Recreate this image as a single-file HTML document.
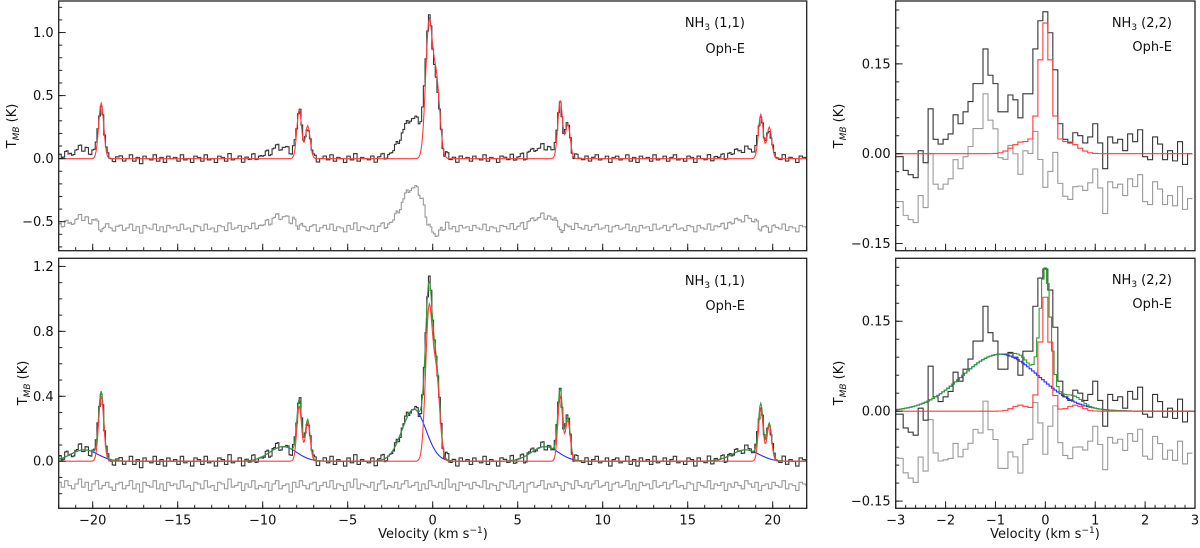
<!DOCTYPE html>
<html><head><meta charset="utf-8">
<style>
html,body{margin:0;padding:0;background:#fff;}
svg{display:block;font-family:"DejaVu Sans","Liberation Sans",sans-serif;}
</style></head>
<body>
<svg id="chart" width="1200" height="548" viewBox="0 0 1200 548" xmlns="http://www.w3.org/2000/svg"></svg>
<script>
// ---------- DATA: NH3 (1,1) ----------
const hfCenters = [-19.5, -7.85, -7.35, -0.22, 0.22, 7.5, 7.95, 19.3, 19.8];
const hfSigmas = [0.15, 0.14, 0.14, 0.2, 0.2, 0.14, 0.14, 0.14, 0.14];
const hfAmpsTop = [0.44, 0.39, 0.26, 1.05, 0.6, 0.46, 0.27, 0.35, 0.25];
const hfAmpsBottom = [0.40, 0.34, 0.24, 0.92, 0.5, 0.40, 0.25, 0.32, 0.22];
const broadCenters = [-20.5, -8.8, -1.1, 6.6, 18.4];
const broadAmps = [0.07, 0.09, 0.32, 0.09, 0.07];
const broadSigmas = [0.8, 0.8, 0.7, 0.8, 0.8];
// residual noise, 0.2 km/s steps from -22 to 22
const noise11 = [
0.02,-0.01,0.03,0.00,-0.02,0.01,0.04,-0.01,0.02,-0.03,0.01,0.03,-0.02,0.00,0.02,-0.01,-0.03,0.01,0.02,-0.02,
0.00,0.03,-0.02,0.01,-0.04,0.02,0.00,-0.01,0.03,-0.02,0.01,-0.03,0.02,0.00,0.01,-0.02,0.03,-0.01,0.00,-0.03,
0.02,0.01,-0.02,0.03,-0.01,0.00,-0.03,0.02,0.01,-0.02,0.04,-0.01,0.00,0.02,-0.03,0.01,-0.01,0.03,-0.02,0.00,
-0.01,0.02,-0.03,0.01,0.03,-0.02,0.00,0.01,-0.04,0.02,-0.01,0.03,0.00,-0.02,0.01,0.02,-0.03,0.00,0.02,-0.01,
0.03,-0.02,0.01,0.00,-0.03,0.02,-0.01,0.04,-0.02,0.01,0.00,-0.01,0.02,-0.03,0.01,0.03,-0.02,0.00,-0.01,0.02,
-0.02,0.01,0.03,-0.01,0.00,0.02,-0.03,0.01,-0.02,0.03,0.00,-0.01,0.02,-0.02,0.04,-0.01,0.01,-0.03,0.02,0.00,
0.01,-0.02,0.02,0.00,-0.01,0.03,-0.02,0.01,0.00,-0.03,0.02,0.01,-0.01,0.03,-0.02,0.00,0.02,-0.04,0.01,0.02,
-0.01,0.00,0.03,-0.02,0.01,-0.01,0.02,0.00,-0.03,0.02,0.01,-0.02,0.03,0.00,-0.01,0.02,-0.02,0.01,0.03,-0.01,
0.00,0.02,-0.03,0.01,0.02,-0.01,0.00,0.03,-0.02,0.01,-0.03,0.02,0.00,0.01,-0.02,0.03,-0.01,0.00,0.02,-0.02,
0.01,0.03,-0.01,0.00,-0.02,0.02,0.01,-0.03,0.02,0.00,-0.01,0.03,-0.02,0.01,0.00,0.02,-0.03,0.01,-0.01,0.02,
0.00,-0.02,0.03,0.01,-0.01,0.02,-0.03,0.00,0.01,-0.02,0.02,0.00,-0.01,0.03,-0.02,0.01,0.00,-0.03,0.02,0.01,
0.00];
// ---------- DATA: NH3 (2,2) ----------
const obs22 = [-0.005,-0.005,-0.028,-0.035,-0.04,0.005,-0.015,0.075,0.024,0.016,0.024,0.033,0.065,0.05,0.07,0.087,0.117,0.117,0.175,0.131,0.117,0.07,0.07,0.098,0.09,0.06,0.1,0.1,0.175,0.222,0.237,0.202,0.14,0.05,0.024,0.018,0.035,0.03,0.018,0.028,0.05,0.018,-0.025,0.028,0.018,0.024,0.005,0.033,0.02,0.04,-0.005,-0.01,0.028,0.016,-0.01,0.005,-0.012,0.02,-0.018,0.0];
const c22Top = [-0.45, 0.0, 0.45];
const a22Top = [0.02, 0.215, 0.02];
const s22Top = [0.2, 0.12, 0.2];
const c22Bot = [-0.5, 0.0, 0.6];
const a22Bot = [0.01, 0.19, 0.01];
const s22Bot = [0.15, 0.1, 0.15];
const broad22Center = [-0.9];
const broad22Amp = [0.095];
const broad22Sigma = [0.78];
const xTicksLeft = [-20,-15,-10,-5,0,5,10,15,20];
const yTicksLT = [-0.5,0.0,0.5,1.0];
const yTicksLB = [0.0,0.4,0.8,1.2];
const xTicksRight = [-3,-2,-1,0,1,2,3];
const yTicksR = [-0.15,0.00,0.15];

// ---------- helpers ----------
const svg = document.getElementById('chart');
const NS = 'http://www.w3.org/2000/svg';
function mk(tag, attrs, parent){const e=document.createElementNS(NS,tag);for(const k in attrs)e.setAttribute(k,attrs[k]);(parent||svg).appendChild(e);return e;}
function gsum(v,cs,as,ss){let s=0;for(let i=0;i<cs.length;i++){const d=(v-cs[i])/ss[i];s+=as[i]*Math.exp(-0.5*d*d);}return s;}
function fmt(v,dec){const s=Math.abs(v).toFixed(dec);return (v<0?'\u2212':'')+s;}

function makePanel(name,p){
  p.sx=v=>p.x0+(v-p.xmin)/(p.xmax-p.xmin)*(p.x1-p.x0);
  p.sy=v=>p.y1-(v-p.ymin)/(p.ymax-p.ymin)*(p.y1-p.y0);
  const cp=mk('clipPath',{id:'clip-'+name});
  mk('rect',{x:p.x0,y:p.y0,width:p.x1-p.x0,height:p.y1-p.y0},cp);
  p.g=mk('g',{'clip-path':'url(#clip-'+name+')'});
  
  
  return p;
}
function stepPath(p,vals,v0,dv,color,w,label){
  let d='';
  for(let i=0;i<vals.length;i++){
    const xa=p.sx(v0+i*dv-dv/2), xb=p.sx(v0+i*dv+dv/2), y=p.sy(vals[i]);
    d+=(i===0?'M':'L')+xa.toFixed(2)+','+y.toFixed(2)+'L'+xb.toFixed(2)+','+y.toFixed(2);
  }
  const e=mk('path',{d:d,fill:'none',stroke:color,'stroke-width':w,'stroke-linejoin':'miter'},p.g);
  
  
  return e;
}
function linePath(p,fn,v0,v1,dv,color,w,label){
  let d='';
  for(let v=v0,i=0;v<=v1+1e-9;v+=dv,i++){d+=(i===0?'M':'L')+p.sx(v).toFixed(2)+','+p.sy(fn(v)).toFixed(2);}
  const e=mk('path',{d:d,fill:'none',stroke:color,'stroke-width':w},p.g);
  
  
  return e;
}
function axes(name,p,xt,xminor,yt,yminor,ydec,xlabels){
  const f=mk('rect',{x:p.x0,y:p.y0,width:p.x1-p.x0,height:p.y1-p.y0,fill:'none',stroke:'#222','stroke-width':1.3});
  
  
  const tg=mk('g',{stroke:'#222','stroke-width':1});
  
  
  for(let v=p.xmin;v<=p.xmax+1e-9;v+=xminor){const x=p.sx(v);mk('line',{x1:x,x2:x,y1:p.y1,y2:p.y1-3.5},tg);}
  for(let v=Math.ceil(p.ymin/yminor)*yminor;v<=p.ymax+1e-9;v+=yminor){const y=p.sy(v);mk('line',{x1:p.x0,x2:p.x0+3.5,y1:y,y2:y},tg);}
  xt.forEach(v=>{const x=p.sx(v);mk('line',{x1:x,x2:x,y1:p.y1,y2:p.y1-7},tg);
    if(xlabels){const t=mk('text',{x:x,y:p.y1+16,'text-anchor':'middle','font-size':13,fill:'#111'});t.textContent=fmt(v,0);
      
      }});
  yt.forEach(v=>{const y=p.sy(v);mk('line',{x1:p.x0,x2:p.x0+7,y1:y,y2:y},tg);
    const t=mk('text',{x:p.x0-5,y:y+4.5,'text-anchor':'end','font-size':13,fill:'#111'});t.textContent=fmt(v,ydec);
    
    });
}
function ylabel(name,x,y){
  const t=mk('text',{x:0,y:0,transform:'translate('+x+','+y+') rotate(-90)','text-anchor':'middle','font-size':13,fill:'#111'});
  t.innerHTML='T<tspan font-size="9" font-style="italic" dy="3">MB</tspan><tspan dy="-3"> (K)</tspan>';
  
  
}
function xlabel(name,x,y){
  const t=mk('text',{x:x,y:y,'text-anchor':'middle','font-size':13,fill:'#111'});
  t.innerHTML='Velocity (km s<tspan font-size="9" dy="-5">\u22121</tspan><tspan dy="5">)</tspan>';
  
  
}
function annot(name,xr,y1,line,y2){
  const t=mk('text',{x:xr,y:y1,'text-anchor':'end','font-size':13,fill:'#111'});
  t.innerHTML='NH<tspan font-size="9" dy="3">3</tspan><tspan dy="-3"> '+line+'</tspan>';
  
  
  const s=mk('text',{x:xr,y:y2,'text-anchor':'end','font-size':13,fill:'#111'});
  s.textContent='Oph-E';
  
  
}

const RED='#ff3b3b', BLK='#333', GRY='#9a9a9a', GRN='#2e9e2e', BLU='#2a2aff';

// ---------- Left panels ----------
const LT=makePanel('left-top',{x0:58.7,x1:806.7,y0:1,y1:250.7,xmin:-22,xmax:22,ymin:-0.73,ymax:1.25});
const LB=makePanel('left-bottom',{x0:58.7,x1:806.7,y0:258.3,y1:508.3,xmin:-22,xmax:22,ymin:-0.29,ymax:1.25});
const dv1=0.1, n1=441;
const redTop=v=>gsum(v,hfCenters,hfAmpsTop,hfSigmas);
const redBot=v=>gsum(v,hfCenters,hfAmpsBottom,hfSigmas);
const blue=v=>gsum(v,broadCenters,broadAmps,broadSigmas);
const obs11=[], resTop=[], resBot=[];
for(let i=0;i<n1;i++){
  const v=-22+i*dv1;
  const o=redBot(v)+blue(v)+noise11[Math.min(noise11.length-1,Math.floor(i/2))];
  obs11.push(o);
  resTop.push(o-redTop(v)-0.55);
  resBot.push(o-redBot(v)-blue(v)-0.15);
}
stepPath(LT,resTop,-22,dv1,GRY,1.1,'residual-spectrum-top');
stepPath(LT,obs11,-22,dv1,BLK,1.1,'observed-spectrum-top');
linePath(LT,redTop,-22,22,0.05,RED,1.1,'model-fit-top');

stepPath(LB,resBot,-22,dv1,GRY,1.1,'residual-spectrum-bottom');
stepPath(LB,obs11,-22,dv1,BLK,1.1,'observed-spectrum-bottom');
linePath(LB,blue,-22,22,0.05,BLU,1.1,'broad-component-bottom');
linePath(LB,v=>redBot(v)+blue(v),-22,22,0.05,GRN,1.1,'total-fit-bottom');
linePath(LB,redBot,-22,22,0.05,RED,1.1,'narrow-component-bottom');

axes('left-top',LT,xTicksLeft,1,yTicksLT,0.1,1,false);
axes('left-bottom',LB,xTicksLeft,1,yTicksLB,0.1,1,true);
ylabel('left-top',16,126);
ylabel('left-bottom',27,383);
xlabel('left',433,538);
annot('left-top',745,27,'(1,1)',53);
annot('left-bottom',745,285,'(1,1)',310);

// ---------- Right panels ----------
const RT=makePanel('right-top',{x0:895.7,x1:1195,y0:1,y1:250.7,xmin:-3,xmax:3,ymin:-0.162,ymax:0.255});
const RB=makePanel('right-bottom',{x0:895.7,x1:1195,y0:258.3,y1:508.3,xmin:-3,xmax:3,ymin:-0.162,ymax:0.255});
const dv2=0.1, v02=-3.0;
const red22T=v=>gsum(v,c22Top,a22Top,s22Top);
const red22B=v=>gsum(v,c22Bot,a22Bot,s22Bot);
const blue22=v=>gsum(v,broad22Center,broad22Amp,broad22Sigma);
const mT=[],mB=[],rT=[],rB=[],bl=[],gr=[];
obs22.forEach((o,i)=>{const v=v02+i*dv2;
  mT.push(red22T(v)); mB.push(red22B(v));
  rT.push(o-red22T(v)-0.075); rB.push(o-red22B(v)-blue22(v)-0.07);});
for(let i=0;i<121;i++){const v=-3.0+i*0.05;bl.push(blue22(v));gr.push(blue22(v)+red22B(v));}
stepPath(RT,rT,v02,dv2,GRY,1.1,'residual-spectrum-22-top');
stepPath(RT,obs22,v02,dv2,BLK,1.1,'observed-spectrum-22-top');
stepPath(RT,mT,v02,dv2,RED,1.1,'model-fit-22-top');
stepPath(RB,rB,v02,dv2,GRY,1.1,'residual-spectrum-22-bottom');
stepPath(RB,obs22,v02,dv2,BLK,1.1,'observed-spectrum-22-bottom');
stepPath(RB,bl,-3.0,0.05,BLU,1.1,'broad-component-22-bottom');
stepPath(RB,gr,-3.0,0.05,GRN,1.1,'total-fit-22-bottom');
stepPath(RB,mB,v02,dv2,RED,1.1,'narrow-component-22-bottom');

axes('right-top',RT,xTicksRight,0.2,yTicksR,0.03,2,false);
axes('right-bottom',RB,xTicksRight,0.2,yTicksR,0.03,2,true);
ylabel('right-top',843,126);
ylabel('right-bottom',843,383);
xlabel('right',1045,538);
annot('right-top',1172,27,'(2,2)',51);
annot('right-bottom',1172,284,'(2,2)',308);
</script>
</body></html>
